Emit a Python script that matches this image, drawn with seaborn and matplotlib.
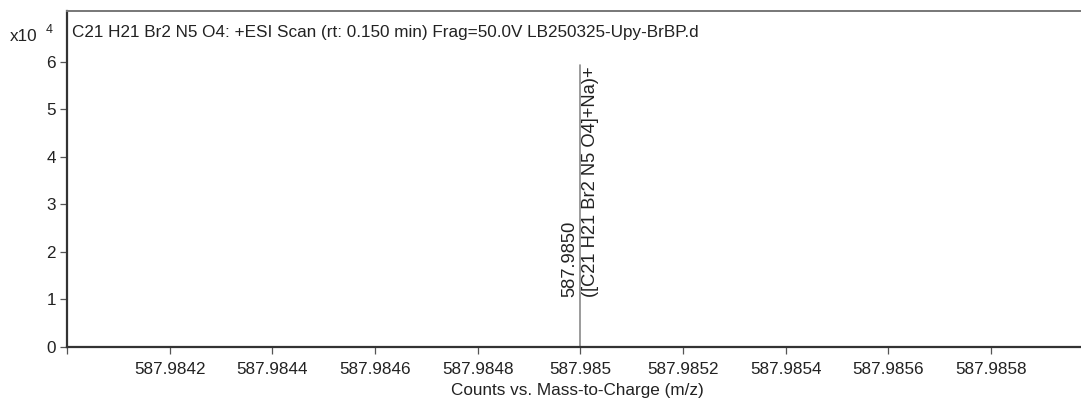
import matplotlib
matplotlib.use("Agg")
import matplotlib.pyplot as plt
import seaborn as sns
import pandas as pd

# Centroided peak list (m/z, counts in units of 1e4)
peak_mz = [587.9850]
peak_counts = [5.93]
peak_value_labels = ["587.9850"]
peak_formula_labels = ["([C21 H21 Br2 N5 O4]+Na)+"]

x_ticks = [587.9840, 587.9842, 587.9844, 587.9846, 587.9848, 587.9850,
           587.9852, 587.9854, 587.9856, 587.9858]
x_tick_labels = ["", "587.9842", "587.9844", "587.9846", "587.9848", "587.985",
                 "587.9852", "587.9854", "587.9856", "587.9858"]
y_ticks = [0, 1, 2, 3, 4, 5, 6]

title = "C21 H21 Br2 N5 O4: +ESI Scan (rt: 0.150 min) Frag=50.0V LB250325-Upy-BrBP.d"
x_label = "Counts vs. Mass-to-Charge (m/z)"

sns.set_style("ticks")
plt.rcParams["font.family"] = ["Liberation Sans", "DejaVu Sans"]
text_color = "#222222"
fs = 12.3

fig = plt.figure(figsize=(10.81, 4.01), dpi=100)
ax = fig.add_axes([0.062, 0.135, 0.945, 0.838])

# Each stick is drawn as a vertical segment from the baseline to its intensity
rows = []
for i, (mz, c) in enumerate(zip(peak_mz, peak_counts)):
    rows.append({"mz": mz, "counts": 0.0, "peak": i})
    rows.append({"mz": mz, "counts": c, "peak": i})
sticks = pd.DataFrame(rows)
sns.lineplot(data=sticks, x="mz", y="counts", units="peak", estimator=None,
             sort=False, color="#8a8a8a", linewidth=1.2, ax=ax)

for mz, c, vlab, flab in zip(peak_mz, peak_counts, peak_value_labels, peak_formula_labels):
    ax.text(mz - 0.0000030, 1.05, vlab, rotation=90, ha="right", va="bottom",
            fontsize=13.2, color=text_color)
    ax.text(mz + 0.0000030, 1.05, flab, rotation=90, ha="left", va="bottom",
            fontsize=13.2, color=text_color)

ax.set_xlim(587.98400, 587.98599)
ax.set_ylim(0, 7.07)
ax.set_xticks(x_ticks)
ax.set_xticklabels(x_tick_labels)
ax.set_yticks(y_ticks)
ax.set_yticklabels([str(v) for v in y_ticks])
ax.set_xlabel(x_label, fontsize=fs, color=text_color, labelpad=4)
ax.set_ylabel("")

ax.tick_params(axis="both", labelsize=fs, colors="#555555", labelcolor=text_color,
               length=5, width=0.9)
ax.tick_params(axis="x", pad=6)
ax.tick_params(axis="y", pad=3)

for side in ["left", "bottom"]:
    ax.spines[side].set_color("#333333")
    ax.spines[side].set_linewidth(1.6)
ax.spines["top"].set_visible(True)
ax.spines["top"].set_color("#777777")
ax.spines["top"].set_linewidth(1.4)
ax.spines["right"].set_visible(False)

ax.text(0.005, 0.935, title, transform=ax.transAxes, fontsize=fs,
        color=text_color, ha="left", va="center")

fig.text(0.009, 0.91, "x10", fontsize=fs, color=text_color, ha="left", va="center")
fig.text(0.042, 0.925, "4", fontsize=9, color=text_color, ha="left", va="center")

fig.savefig("out.png", dpi=100)
